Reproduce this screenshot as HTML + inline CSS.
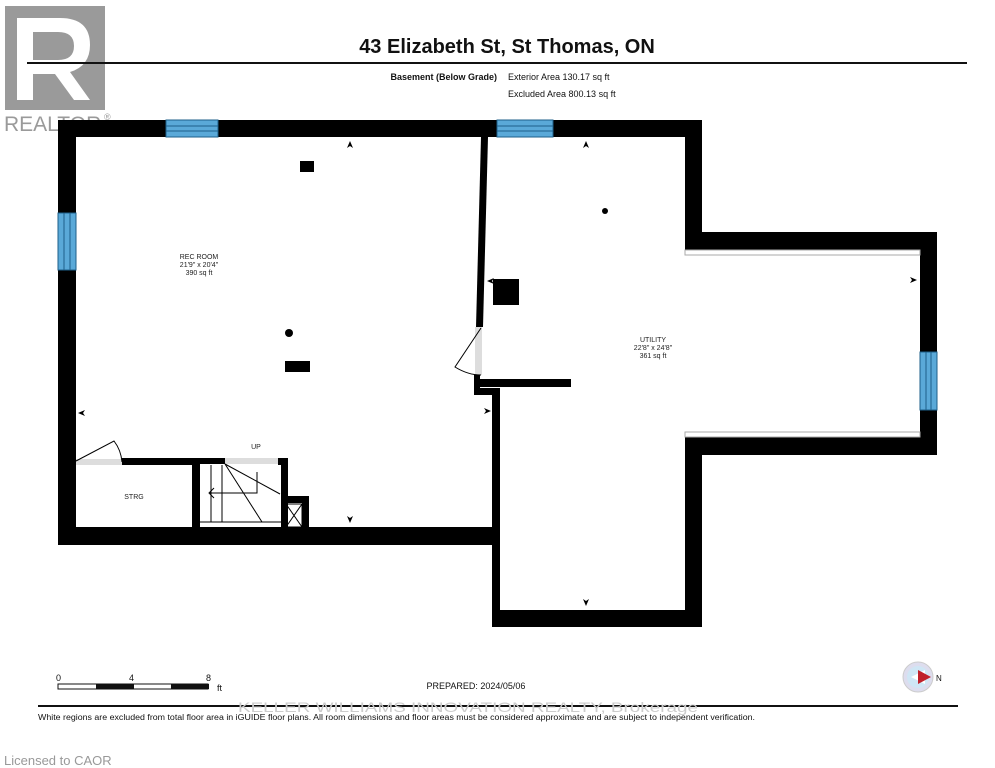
<!DOCTYPE html>
<html><head><meta charset="utf-8"><style>
html,body{margin:0;padding:0;background:#fff;}
svg{display:block;font-family:"Liberation Sans",Arial,sans-serif;}
</style></head><body>
<svg width="995" height="768" viewBox="0 0 995 768" xmlns="http://www.w3.org/2000/svg">
<rect width="995" height="768" fill="#fff"/>
<rect x="5" y="6" width="100" height="104" fill="#9a9a9a"/>
<path d="M17 18 H60 Q90 18 90 45 Q90 66 70 72 L90 100 H74 L55 74 H33 V100 H17 Z M33 32 V60 H58 Q74 60 74 46 Q74 32 58 32 Z" fill="#fff"/>
<text x="4" y="131" font-size="21" fill="#9a9a9a">REALTOR</text>
<text x="104" y="120" font-size="9" fill="#9a9a9a">®</text>
<text x="507" y="53" font-size="20" font-weight="bold" text-anchor="middle" fill="#111">43 Elizabeth St, St Thomas, ON</text>
<rect x="27" y="62" width="940" height="2" fill="#111"/>
<text x="497" y="80" font-size="9" font-weight="bold" text-anchor="end" fill="#111">Basement (Below Grade)</text>
<text x="508" y="80" font-size="9" fill="#111">Exterior Area 130.17 sq ft</text>
<text x="508" y="97" font-size="9" fill="#111">Excluded Area 800.13 sq ft</text>

<g fill="#000">
<rect x="58" y="120" width="644" height="17"/>
<rect x="58" y="120" width="18" height="425"/>
<rect x="58" y="527" width="442" height="18"/>
<polygon points="481,137 488,137 483,327 476,327"/>
<rect x="475" y="379" width="96" height="8"/>
<rect x="474" y="375" width="6" height="20"/>
<rect x="474" y="388" width="25" height="7"/>
<rect x="492" y="388" width="8" height="239"/>
<rect x="685" y="120" width="17" height="130"/>
<rect x="685" y="232" width="252" height="18"/>
<rect x="920" y="232" width="17" height="223"/>
<rect x="685" y="437" width="252" height="18"/>
<rect x="685" y="437" width="17" height="190"/>
<rect x="492" y="610" width="210" height="17"/>
<rect x="122" y="458" width="76" height="7"/>
<rect x="192" y="458" width="8" height="70"/>
<rect x="192" y="458" width="33" height="6"/>
<rect x="278" y="458" width="9" height="7"/>
<rect x="281" y="458" width="7" height="70"/>
<rect x="281" y="496" width="28" height="7"/>
<rect x="302" y="496" width="7" height="32"/>
<rect x="300" y="161" width="14" height="11"/>
<rect x="285" y="361" width="25" height="11"/>
<circle cx="289" cy="333" r="4"/>
<rect x="493" y="279" width="26" height="26"/>
<circle cx="605" cy="211" r="3"/>
</g>
<g fill="#5aa9d8" stroke="#1d5f8a" stroke-width="1">
<rect x="166" y="120" width="52" height="17"/>
<rect x="497" y="120" width="56" height="17"/>
<rect x="58" y="213" width="18" height="57"/>
<rect x="920" y="352" width="17" height="58"/>
</g>
<g stroke="#1d5f8a" stroke-width="1">
<line x1="166" y1="126" x2="218" y2="126"/><line x1="166" y1="131" x2="218" y2="131"/>
<line x1="497" y1="126" x2="553" y2="126"/><line x1="497" y1="131" x2="553" y2="131"/>
<line x1="64" y1="213" x2="64" y2="270"/><line x1="70" y1="213" x2="70" y2="270"/>
<line x1="926" y1="352" x2="926" y2="410"/><line x1="931" y1="352" x2="931" y2="410"/>
</g>
<rect x="685" y="250" width="235" height="5" fill="#fff" stroke="#aaa" stroke-width="1"/>
<rect x="685" y="432" width="235" height="5" fill="#fff" stroke="#aaa" stroke-width="1"/>
<rect x="76" y="459" width="46" height="6" fill="#ddd"/>
<path d="M76 461 L114 441 Q121 450 122 462" fill="none" stroke="#000" stroke-width="1"/>
<rect x="225" y="458" width="53" height="6" fill="#ddd"/>
<rect x="475" y="327" width="7" height="48" fill="#ddd"/>
<path d="M481 328 L455 367 Q468 375 481 375" fill="none" stroke="#000" stroke-width="1"/>
<g stroke="#000" stroke-width="1" fill="none">
<line x1="211" y1="465" x2="211" y2="522"/>
<line x1="222" y1="465" x2="222" y2="522"/>
<line x1="225" y1="464" x2="280" y2="494"/>
<line x1="225" y1="464" x2="262" y2="522"/>
<polyline points="257,472 257,493 210,493"/>
<polyline points="214,488 209,493 214,498"/>
<rect x="286" y="504" width="16" height="23"/>
<line x1="286" y1="504" x2="302" y2="527"/><line x1="302" y1="504" x2="286" y2="527"/>
<line x1="200" y1="522" x2="281" y2="522"/>
</g>
<g fill="#000">
<polygon points="350,141 347,148 350,146 353,148"/>
<polygon points="586,141 583,148 586,146 589,148"/>
<polygon points="350,523 347,516 350,518 353,516"/>
<polygon points="586,606 583,599 586,601 589,599"/>
<polygon points="78,413 85,410 83,413 85,416"/>
<polygon points="491,411 484,408 486,411 484,414"/>
<polygon points="487,281 494,278 492,281 494,284"/>
<polygon points="917,280 910,277 912,280 910,283"/>
</g>
<g font-size="7" fill="#222" text-anchor="middle">
<text x="199" y="259">REC ROOM</text><text x="199" y="267">21'9" x 20'4"</text><text x="199" y="275">390 sq ft</text>
<text x="653" y="342">UTILITY</text><text x="653" y="350">22'8" x 24'8"</text><text x="653" y="358">361 sq ft</text>
<text x="134" y="499">STRG</text>
<text x="256" y="449">UP</text>
</g>
<g font-size="9" fill="#111">
<text x="56" y="681">0</text><text x="129" y="681">4</text><text x="206" y="681">8</text><text x="217" y="691">ft</text>
</g>
<rect x="58" y="684" width="150" height="5" fill="#fff" stroke="#111" stroke-width="1"/>
<rect x="96" y="684" width="38" height="5" fill="#111"/>
<rect x="171" y="684" width="38" height="5" fill="#111"/>
<text x="476" y="689" font-size="9" fill="#111" text-anchor="middle">PREPARED: 2024/05/06</text>
<circle cx="918" cy="677" r="15" fill="#dde" stroke="#ccc"/>
<circle cx="918" cy="677" r="11" fill="#cfe6f5"/>
<polygon points="911,677 925,670 925,684" fill="#fff"/>
<polygon points="918,670 931,677 918,684" fill="#c0202a"/>
<text x="936" y="681" font-size="8" fill="#111">N</text>
<rect x="38" y="705" width="920" height="2" fill="#111"/>
<text x="238" y="712" font-size="14" fill="#ccc" textLength="460" lengthAdjust="spacingAndGlyphs">KELLER WILLIAMS INNOVATION REALTY, Brokerage</text>
<text x="38" y="720" font-size="8" fill="#111" textLength="717" lengthAdjust="spacingAndGlyphs">White regions are excluded from total floor area in iGUIDE floor plans. All room dimensions and floor areas must be considered approximate and are subject to independent verification.</text>
<text x="4" y="765" font-size="13" fill="#999">Licensed to CAOR</text>
</svg>
</body></html>
